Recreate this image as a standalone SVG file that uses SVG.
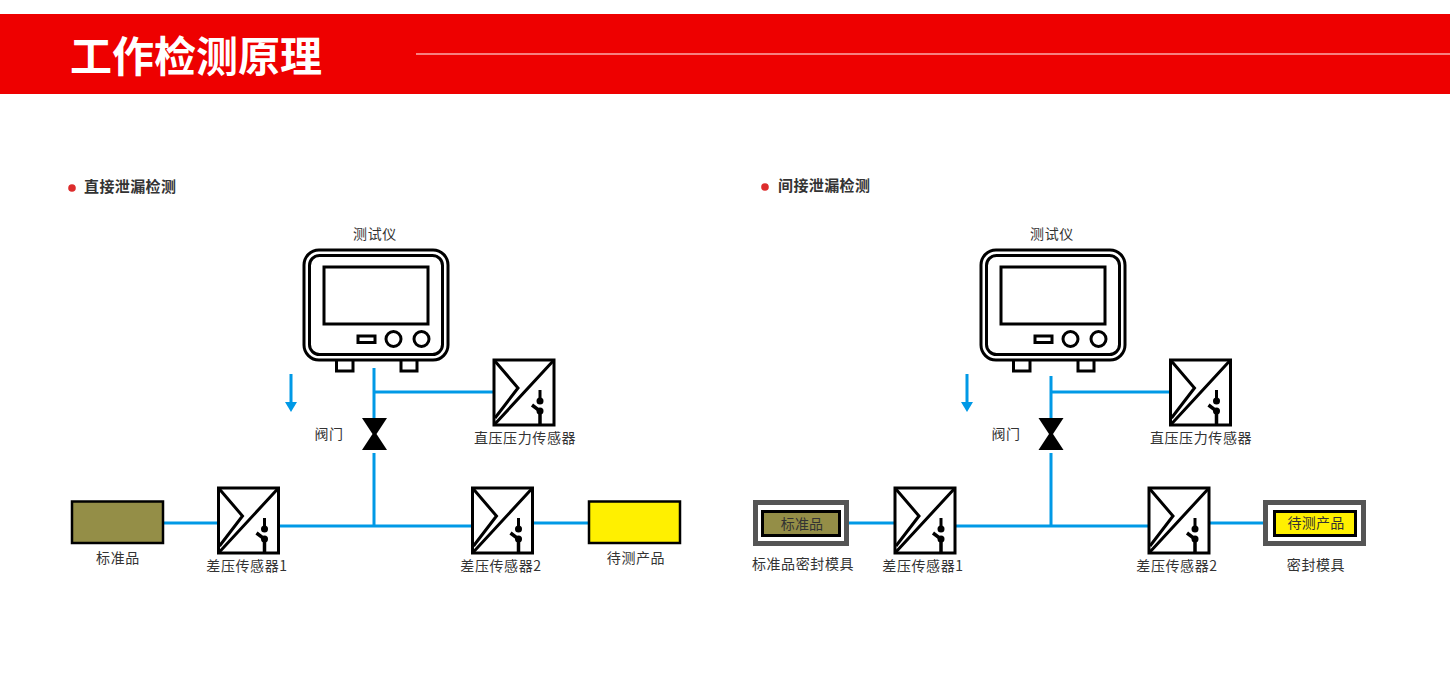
<svg xmlns="http://www.w3.org/2000/svg" width="1450" height="675" viewBox="0 0 1450 675">
<style>
text{font-family:"Noto Sans CJK SC","Noto Sans",sans-serif}
.lb{font-size:14px;fill:#333;letter-spacing:.6px;text-anchor:middle}
.sec{font-size:15px;font-weight:700;fill:#333;letter-spacing:.4px}
.k{fill:none;stroke:#000;stroke-width:3}
.c{fill:none;stroke:#0099e6;stroke-width:3}
.a{fill:#0099e6}
</style>
<defs>
<g id="sensor">
<rect class="k" x="0" y="0" width="60" height="65" style="fill:#fff"/>
<path class="k" d="M0 65L60 0M0 0L24 28L1 58"/>
<path d="M46 30V42" fill="none" stroke="#000" stroke-width="3"/>
<path d="M38 45L46 51V65" fill="none" stroke="#000" stroke-width="3.500"/>
<circle cx="46" cy="41" r="3.500"/><circle cx="46" cy="51" r="3.500"/>
</g>
<g id="meter">
<rect class="k" x="1" y="1" width="144" height="110" rx="15"/>
<rect class="k" x="6.500" y="6.500" width="133" height="99" rx="10"/>
<rect class="k" x="21" y="18" width="104" height="57"/>
<rect class="k" x="55" y="87" width="17" height="6.500"/>
<circle class="k" cx="90.500" cy="90" r="7.500"/>
<circle class="k" cx="118.500" cy="90" r="7.500"/>
<path class="k" d="M33.500 111V122H50V111M98 111V122H114V111"/>
</g>
<path id="valve" d="M0 0H25L14.500 16L25 32H0L10.500 16Z" fill="#000"/>
</defs>

<g id="header">
<rect x="0" y="14" width="1450" height="80" fill="#ee0000"/>
<rect x="416" y="53.500" width="1034" height="1" fill="#fff"/>
<text x="70" y="72" font-size="42" font-weight="700" fill="#fff">工作检测原理</text>
</g>

<g id="connectors">
<path class="c" d="M374 368V418M374 392H494M374 453V526M279 526H472M163 523H218M532 523H588M291 374V405"/>
<path class="a" d="M285 402H297L291 412Z"/>
<path class="c" d="M1051 376V418M1051 392H1171M1051 453V526M956 526H1149M849 523H895M1209 523H1264M967 374V405"/>
<path class="a" d="M961 402H973L967 412Z"/>
</g>

<g id="left-title"><circle cx="72" cy="188" r="3.800" fill="#dd2c2c"/><text class="sec" x="84" y="192">直接泄漏检测</text></g>
<g id="left-meter"><use href="#meter" x="303" y="249"/><text class="lb" x="375" y="239">测试仪</text></g>
<g id="left-valve"><use href="#valve" x="362" y="418"/><text class="lb" x="329" y="439">阀门</text></g>
<g id="left-direct"><use href="#sensor" x="494" y="360"/><text class="lb" x="525" y="443">直压压力传感器</text></g>
<g id="left-standard"><rect x="72" y="501.500" width="91" height="41.500" fill="#948e47" stroke="#000" stroke-width="2.500"/><text class="lb" x="118" y="563">标准品</text></g>
<g id="left-s1"><use href="#sensor" x="218.500" y="488"/><text class="lb" x="247" y="571">差压传感器1</text></g>
<g id="left-s2"><use href="#sensor" x="472.500" y="488"/><text class="lb" x="501" y="571">差压传感器2</text></g>
<g id="left-product"><rect x="589" y="501.500" width="91" height="41.500" fill="#fff000" stroke="#000" stroke-width="2.500"/><text class="lb" x="636" y="563">待测产品</text></g>

<g id="right-title"><circle cx="765" cy="187" r="3.800" fill="#dd2c2c"/><text class="sec" x="778" y="191">间接泄漏检测</text></g>
<g id="right-meter"><use href="#meter" x="980" y="249"/><text class="lb" x="1052" y="239">测试仪</text></g>
<g id="right-valve"><use href="#valve" x="1038.500" y="418"/><text class="lb" x="1006" y="439">阀门</text></g>
<g id="right-direct"><use href="#sensor" x="1170.500" y="360"/><text class="lb" x="1201" y="443">直压压力传感器</text></g>
<g id="right-standard"><rect x="755.500" y="502.500" width="91" height="41" fill="#fff" stroke="#555" stroke-width="5"/><rect x="762.500" y="511.500" width="77" height="24" fill="#948e47" stroke="#000" stroke-width="3"/><text class="lb" x="802" y="529" style="letter-spacing:.2px">标准品</text><text class="lb" x="803" y="569">标准品密封模具</text></g>
<g id="right-s1"><use href="#sensor" x="895" y="488"/><text class="lb" x="923" y="571">差压传感器1</text></g>
<g id="right-s2"><use href="#sensor" x="1149" y="488"/><text class="lb" x="1177" y="571">差压传感器2</text></g>
<g id="right-product"><rect x="1265.500" y="502.500" width="98" height="41" fill="#fff" stroke="#555" stroke-width="5"/><rect x="1274.500" y="511.500" width="81" height="24" fill="#fff000" stroke="#000" stroke-width="3"/><text class="lb" x="1316" y="528" style="letter-spacing:.2px">待测产品</text><text class="lb" x="1316" y="570">密封模具</text></g>
</svg>
